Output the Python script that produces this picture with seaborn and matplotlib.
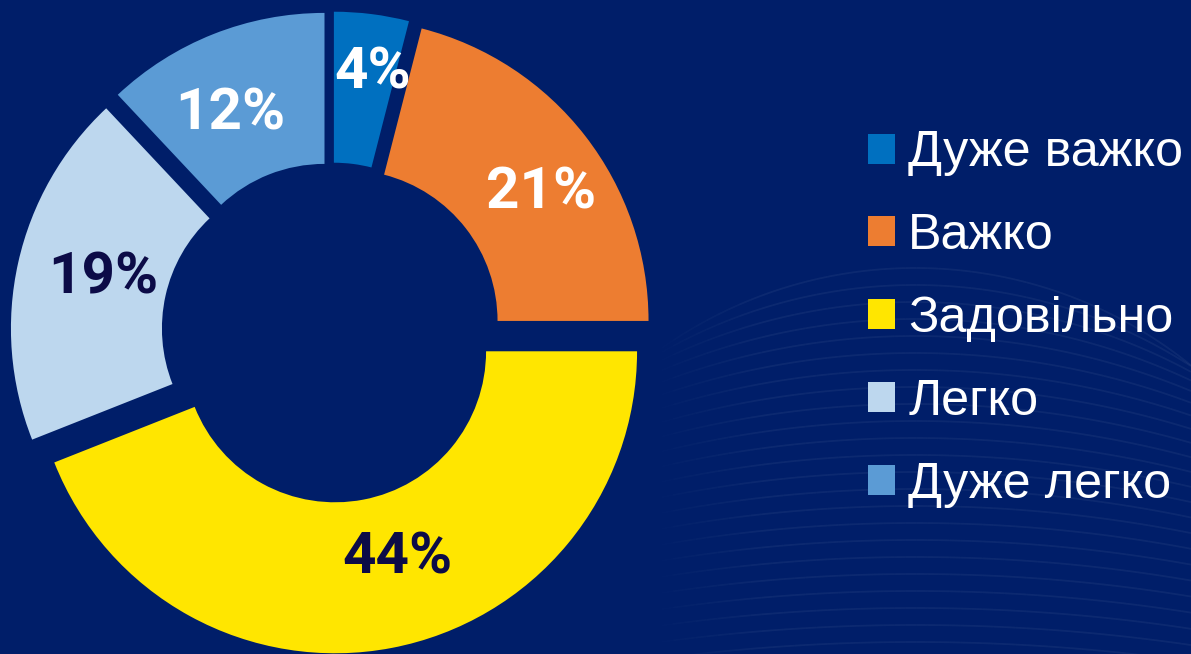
import matplotlib
matplotlib.use("Agg")
import matplotlib.pyplot as plt
import numpy as np
import seaborn as sns

categories = ["Дуже важко", "Важко", "Задовільно", "Легко", "Дуже легко"]
values = [4, 21, 44, 19, 12]
colors = ["#0070C0", "#ED7D31", "#FFE600", "#BDD7EE", "#5B9BD5"]
label_colors = ["white", "white", "#0C0B47", "#0C0B47", "white"]
# small manual label nudges (pixels, x right / y up)
label_nudge_px = [(10, 15), (14, -12), (20, 17), (13, 1), (-10, -11)]

BG = "#001E69"

sns.set_theme(style="white")
plt.rcParams["font.family"] = ["Roboto", "DejaVu Sans"]

W, H = 1191, 654
fig = plt.figure(figsize=(W / 100, H / 100), dpi=100, facecolor=BG)

# faint decorative wave arcs in the background (lower right)
bg = fig.add_axes([0, 0, 1, 1], zorder=0)
bg.set_xlim(0, W)
bg.set_ylim(H, 0)
bg.axis("off")
xs = np.linspace(640, W, 400)
for k in range(24):
    apex_y = 268 + k * 17
    rad = 440 + k * 70
    ccy = apex_y + rad
    inside = rad ** 2 - (xs - 915) ** 2
    ok = inside > 0
    ys = ccy - np.sqrt(np.where(ok, inside, np.nan))
    fade = np.clip((xs - 640) / 120, 0, 1)
    for seg in range(0, len(xs) - 1, 8):
        sl = slice(seg, seg + 9)
        bg.plot(xs[sl], ys[sl], color="white", alpha=0.05 * fade[seg], lw=1.3,
                solid_capstyle="butt")

# pie geometry in pixels
cx, cy, R = 331.5, 332.6, 302.0
half = 340.0
ax = fig.add_axes([(cx - half) / W, (H - cy - half) / H, 2 * half / W, 2 * half / H], zorder=1)
ax.patch.set_alpha(0)

palette = sns.color_palette(colors)
wedges, texts, autotexts = ax.pie(
    values,
    colors=palette,
    startangle=90,
    counterclock=False,
    explode=[0.063] * len(values),
    wedgeprops=dict(width=0.5, linewidth=0),
    autopct=lambda p: f"{p:.0f}%",
    pctdistance=0.755,
    textprops=dict(fontsize=42, fontweight="bold"),
)
for txt, c, (nx, ny) in zip(autotexts, label_colors, label_nudge_px):
    txt.set_color(c)
    x, y = txt.get_position()
    txt.set_position((x + nx / R, y + ny / R))

lim = half / R
ax.set_xlim(-lim, lim)
ax.set_ylim(-lim, lim)
ax.set_aspect("equal")
ax.axis("off")

leg = fig.legend(
    wedges,
    categories,
    loc="center left",
    bbox_to_anchor=(868 / W, (H - 319) / H),
    frameon=False,
    prop=dict(family=["Liberation Sans", "DejaVu Sans"], size=36.3),
    handlelength=0.54,
    handleheight=0.54,
    handletextpad=0.26,
    labelspacing=0.73,
    borderpad=0,
    borderaxespad=0,
)
for tx in leg.get_texts():
    tx.set_color("white")

fig.savefig("out.png", dpi=100, facecolor=BG)
